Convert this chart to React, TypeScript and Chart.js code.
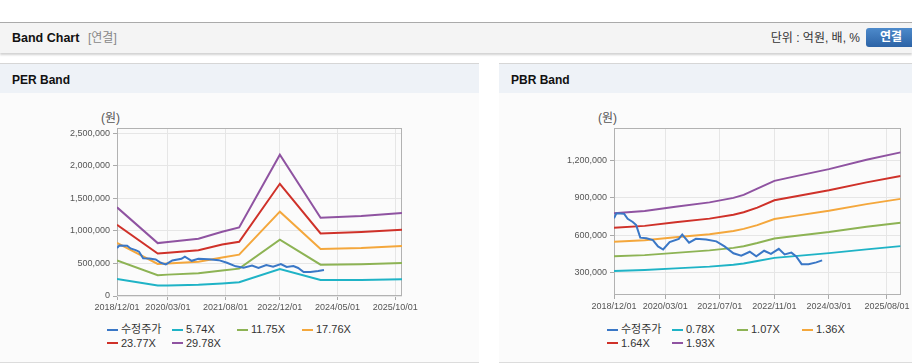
import React, { useEffect, useRef } from 'react';
import { Chart, registerables } from 'chart.js';
Chart.register(...registerables);

// ---------- data ----------
const seriesColors = ['#3a77c6', '#1fb3c6', '#8db354', '#f4a73c', '#cf3129', '#8f53a1'];

const perLegend = ['수정주가', '5.74X', '11.75X', '17.76X', '23.77X', '29.78X'];
const pbrLegend = ['수정주가', '0.78X', '1.07X', '1.36X', '1.64X', '1.93X'];

// x values are months counted from 2018/12/01
const perXTicks = [0, 15, 32, 48, 65, 82];
const perXLabels = ['2018/12/01', '2020/03/01', '2021/08/01', '2022/12/01', '2024/05/01', '2025/10/01'];
const pbrXTicks = [0, 15, 31, 47, 63, 80];
const pbrXLabels = ['2018/12/01', '2020/03/01', '2021/07/01', '2022/11/01', '2024/03/01', '2025/08/01'];

const perYTicks = [0, 500000, 1000000, 1500000, 2000000, 2500000];
const pbrYTicks = [300000, 600000, 900000, 1200000];

const priceMonths = [0, 0.7, 3, 4, 5.5, 6.5, 7.7, 9.5, 11.4, 12.9, 14.4, 16.3, 19, 20, 22, 24, 27, 30, 32.4, 35, 37.3, 39.8, 41.7, 44, 46, 48.3, 50, 52, 53.4, 55, 57, 59.3, 61];
const priceValues = [735000, 775000, 770000, 730000, 705000, 680000, 580000, 575000, 560000, 510000, 485000, 545000, 570000, 605000, 540000, 570000, 565000, 550000, 510000, 455000, 435000, 467000, 430000, 475000, 450000, 490000, 445000, 460000, 430000, 368000, 368000, 382000, 398000];

const perMonths = [0, 12, 15, 24, 31, 36, 48, 60, 72, 84];
const per574 = [260000, 162000, 163000, 172000, 192000, 210000, 415000, 245000, 245000, 258000];
const per1175 = [545000, 320000, 328000, 348000, 390000, 420000, 864000, 480000, 488000, 506000];
const per1776 = [815000, 492000, 500000, 525000, 590000, 635000, 1294000, 720000, 736000, 767000];
const per2377 = [1092000, 652000, 665000, 703000, 790000, 833000, 1722000, 959000, 982000, 1015000];
const per2978 = [1360000, 812000, 830000, 880000, 985000, 1052000, 2168000, 1200000, 1226000, 1272000];

const pbrMonths = [0, 9, 18, 28, 35, 38, 42, 47, 53, 63, 74, 84];
const pbr078 = [313000, 321000, 334000, 348000, 363000, 373000, 393000, 418000, 432000, 456000, 486000, 512000];
const pbr107 = [430000, 440000, 458000, 478000, 498000, 511000, 537000, 573000, 593000, 625000, 667000, 699000];
const pbr136 = [546000, 559000, 583000, 607000, 633000, 650000, 680000, 729000, 754000, 795000, 848000, 890000];
const pbr164 = [659000, 674000, 703000, 732000, 763000, 783000, 820000, 879000, 909000, 959000, 1022000, 1073000];
const pbr193 = [775000, 793000, 827000, 862000, 898000, 922000, 972000, 1034000, 1070000, 1128000, 1203000, 1262000];

// ---------- helpers ----------
const pts = (xs: number[], ys: number[]) => xs.map((x, i) => ({ x, y: ys[i] }));

const LATIN = "'Liberation Sans', Arial, 'Noto Sans CJK KR', sans-serif";

const framePlugin = {
  id: 'frame',
  beforeDatasetsDraw(chart: any) {
    const { ctx, chartArea: a } = chart;
    ctx.save();
    ctx.strokeStyle = '#b2b2b2';
    ctx.lineWidth = 1;
    ctx.strokeRect(Math.round(a.left) + 0.5, Math.round(a.top) + 0.5, Math.round(a.right - a.left) - 1, Math.round(a.bottom - a.top) - 1);
    ctx.restore();
  },
};

function buildConfig(p: {
  legend: string[];
  price: { x: number; y: number }[];
  bands: { x: number; y: number }[][];
  xTicks: number[];
  xLabels: string[];
  yTicks: number[];
  yMin: number;
  yMax: number;
  axisW: number;
  axisH: number;
  padRight: number;
}) {
  const all = [p.price, ...p.bands];
  const tickFont = { family: LATIN, size: 9 };
  return {
    type: 'line' as const,
    data: {
      datasets: all.map((d, i) => ({
        label: p.legend[i],
        data: d,
        borderColor: seriesColors[i],
        backgroundColor: seriesColors[i],
        borderWidth: 2,
        pointRadius: 0,
        tension: 0,
        fill: false,
      })),
    },
    options: {
      responsive: false,
      maintainAspectRatio: false,
      animation: false,
      events: [],
      layout: { padding: { left: 0, top: 35, right: p.padRight, bottom: 0 } },
      plugins: { legend: { display: false }, tooltip: { enabled: false }, title: { display: false } },
      scales: {
        x: {
          type: 'linear',
          min: 0,
          max: 84,
          afterBuildTicks: (s: any) => {
            s.ticks = p.xTicks.map((v) => ({ value: v }));
          },
          afterFit: (s: any) => {
            s.height = p.axisH;
          },
          ticks: {
            callback: (_v: any, i: number) => p.xLabels[i],
            maxRotation: 0,
            minRotation: 0,
            autoSkip: false,
            font: tickFont,
            color: '#555',
            padding: 2,
          },
          grid: { color: '#e6e6e6', tickColor: '#aaaaaa', tickLength: 4, drawTicks: true },
          border: { display: false },
        },
        y: {
          type: 'linear',
          min: p.yMin,
          max: p.yMax,
          afterBuildTicks: (s: any) => {
            s.ticks = p.yTicks.map((v) => ({ value: v }));
          },
          afterFit: (s: any) => {
            s.width = p.axisW;
          },
          ticks: {
            callback: (v: any) => Number(v).toLocaleString('en-US'),
            font: tickFont,
            color: '#555',
            padding: 3,
          },
          grid: { color: '#e6e6e6', tickColor: '#aaaaaa', tickLength: 4, drawTicks: true },
          border: { display: false },
        },
      },
    },
    plugins: [framePlugin],
  };
}

function BandCanvas(props: { cfg: any; left: number; top: number; width: number; height: number }) {
  const ref = useRef<HTMLCanvasElement | null>(null);
  useEffect(() => {
    if (!ref.current) return;
    const chart = new Chart(ref.current, props.cfg);
    return () => chart.destroy();
  }, []);
  return (
    <canvas
      ref={ref}
      width={props.width}
      height={props.height}
      style={{ position: 'absolute', left: props.left, top: props.top, width: props.width, height: props.height }}
    />
  );
}

function Legend(props: { labels: string[]; left: number; top: number }) {
  return (
    <div style={{ position: 'absolute', left: props.left, top: props.top, width: 260, display: 'flex', flexWrap: 'wrap' }}>
      {props.labels.map((l, i) => (
        <div key={l} style={{ width: 65, height: 13.4, display: 'flex', alignItems: 'center', whiteSpace: 'nowrap' }}>
          <span style={{ display: 'inline-block', width: 11, height: 2, background: seriesColors[i], marginRight: 3 }} />
          <span style={{ fontFamily: LATIN, fontSize: 11, color: '#333', lineHeight: '13px' }}>{l}</span>
        </div>
      ))}
    </div>
  );
}

function Panel(props: { left: number; width: number; title: string }) {
  return (
    <div style={{ position: 'absolute', left: props.left, top: 63, width: props.width, height: 300, background: '#fbfbfb', borderTop: '1px solid #d6d6d6', borderBottom: '1px solid #dcdcdc', boxSizing: 'border-box' }}>
      <div style={{ height: 29, background: '#eef2f7', position: 'relative' }}>
        <div style={{ position: 'absolute', left: 12, top: 8, fontFamily: LATIN, fontWeight: 'bold', fontSize: 12, lineHeight: '16px', color: '#111' }}>{props.title}</div>
      </div>
    </div>
  );
}

export default function App() {
  const perCfg = buildConfig({
    legend: perLegend,
    price: pts(priceMonths, priceValues),
    bands: [pts(perMonths, per574), pts(perMonths, per1175), pts(perMonths, per1776), pts(perMonths, per2377), pts(perMonths, per2978)],
    xTicks: perXTicks,
    xLabels: perXLabels,
    yTicks: perYTicks,
    yMin: 0,
    yMax: 2578000,
    axisW: 117,
    axisH: 27,
    padRight: 77,
  });
  const pbrCfg = buildConfig({
    legend: pbrLegend,
    price: pts(priceMonths, priceValues),
    bands: [pts(pbrMonths, pbr078), pts(pbrMonths, pbr107), pts(pbrMonths, pbr136), pts(pbrMonths, pbr164), pts(pbrMonths, pbr193)],
    xTicks: pbrXTicks,
    xLabels: pbrXLabels,
    yTicks: pbrYTicks,
    yMin: 121000,
    yMax: 1457000,
    axisW: 115,
    axisH: 28,
    padRight: 11,
  });

  return (
    <div style={{ position: 'absolute', left: 0, top: 0, width: 912, height: 364, overflow: 'hidden', background: '#fff', fontFamily: LATIN }}>
      {/* top bar */}
      <div style={{ position: 'absolute', left: 0, top: 22, width: 912, height: 30, background: '#f4f4f4', borderTop: '1px solid #aaaaaa', boxShadow: '0 2px 2px rgba(0,0,0,0.18)' }}>
        <div style={{ position: 'absolute', left: 12, top: 7, fontWeight: 'bold', fontSize: 12.5, lineHeight: '16px', color: '#111' }}>Band Chart</div>
        <div style={{ position: 'absolute', left: 88, top: 7, fontSize: 12, lineHeight: '16px', color: '#888' }}>[연결]</div>
        <div style={{ position: 'absolute', right: 52, top: 7, fontSize: 12, lineHeight: '16px', color: '#333', whiteSpace: 'nowrap' }}>단위 : 억원, 배, %</div>
        <div style={{ position: 'absolute', left: 866, top: 5, width: 50, height: 19, borderRadius: 3, background: 'linear-gradient(#4d8acb, #2c63a6)', color: '#fff', fontWeight: 'bold', fontSize: 12, lineHeight: '19px', textAlign: 'center' }}>연결</div>
      </div>

      <Panel left={0} width={479} title="PER Band" />
      <Panel left={499} width={413} title="PBR Band" />

      <div style={{ position: 'absolute', left: 101, top: 110, fontSize: 12, lineHeight: '16px', color: '#555' }}>(원)</div>
      <div style={{ position: 'absolute', left: 598, top: 110, fontSize: 12, lineHeight: '16px', color: '#555' }}>(원)</div>

      <BandCanvas cfg={perCfg} left={0} top={93} width={479} height={230} />
      <BandCanvas cfg={pbrCfg} left={499} top={93} width={413} height={230} />

      <Legend labels={perLegend} left={107} top={323} />
      <Legend labels={pbrLegend} left={607} top={323} />
    </div>
  );
}
